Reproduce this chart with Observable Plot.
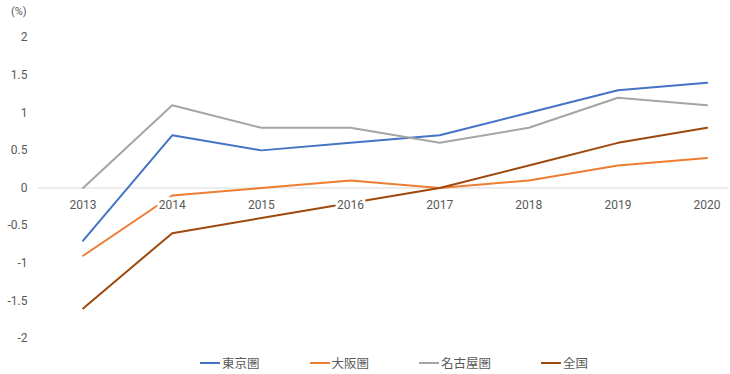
<!DOCTYPE html>
<html>
<head>
<meta charset="utf-8">
<script src="https://cdn.jsdelivr.net/npm/d3@7"></script>
<script src="https://cdn.jsdelivr.net/npm/@observablehq/plot@0.6"></script>
<style>
  body { margin: 0; background: #fff; font-family: Roboto, "Noto Sans CJK JP", sans-serif; }
  #wrap { position: relative; width: 730px; height: 374px; }
  #unit { position: absolute; left: 11px; top: 5px; font-size: 11px; color: #595959; font-family: Roboto, "Noto Sans CJK JP", sans-serif; }
  #legend { position: absolute; left: 200px; top: 353px; display: flex; gap: 50px; font-family: "Noto Sans CJK JP", sans-serif; font-size: 12.5px; color: #595959; }
  .item { display: flex; align-items: center; gap: 2px; }
  .sw { width: 20px; height: 2px; }
</style>
</head>
<body>
<div id="wrap">
  <div id="unit">(%)</div>
  <div id="chart"></div>
  <div id="legend"></div>
</div>
<script>
const years = [2013, 2014, 2015, 2016, 2017, 2018, 2019, 2020];
const seriesNames = ["東京圏", "大阪圏", "名古屋圏", "全国"];
const tokyo   = [-0.7, 0.7, 0.5, 0.6, 0.7, 1.0, 1.3, 1.4];
const osaka   = [-0.9, -0.1, 0.0, 0.1, 0.0, 0.1, 0.3, 0.4];
const nagoya  = [0.0, 1.1, 0.8, 0.8, 0.6, 0.8, 1.2, 1.1];
const zenkoku = [-1.6, -0.6, -0.4, -0.2, 0.0, 0.3, 0.6, 0.8];
const yTicks = [-2, -1.5, -1, -0.5, 0, 0.5, 1, 1.5, 2];
const colors = ["#4472C4", "#ED7D31", "#A5A5A5", "#9E480E"];

const valuesBySeries = [tokyo, osaka, nagoya, zenkoku];
const data = [];
seriesNames.forEach((s, i) => years.forEach((y, j) => data.push({series: s, year: y, value: valuesBySeries[i][j]})));

const chart = Plot.plot({
  width: 730,
  height: 345,
  marginTop: 37,
  marginBottom: 7,
  marginLeft: 38,
  marginRight: 2,
  style: { fontFamily: "Roboto, sans-serif", fontSize: "12px", color: "#595959", background: "white" },
  x: { type: "linear", domain: [2012.5, 2020.24], axis: null },
  y: { domain: [-2, 2], ticks: yTicks, tickFormat: d => String(d), tickSize: 0, tickPadding: 11, label: null },
  color: { domain: seriesNames, range: colors },
  marks: [
    Plot.ruleY([0], { stroke: "#d9d9d9", strokeWidth: 1 }),
    Plot.line(data, { x: "year", y: "value", z: "series", stroke: "series", strokeWidth: 2 }),
    Plot.text(years, { x: d => d, y: 0, text: d => String(d), dy: 17, fill: "#595959", stroke: "white", strokeWidth: 6, paintOrder: "stroke", fontSize: 12 })
  ]
});
document.getElementById("chart").appendChild(chart);

const legend = document.getElementById("legend");
seriesNames.forEach((s, i) => {
  const item = document.createElement("div");
  item.className = "item";
  const sw = document.createElement("div");
  sw.className = "sw";
  sw.style.background = colors[i];
  const t = document.createElement("span");
  t.textContent = s;
  item.appendChild(sw);
  item.appendChild(t);
  legend.appendChild(item);
});
</script>
</body>
</html>
